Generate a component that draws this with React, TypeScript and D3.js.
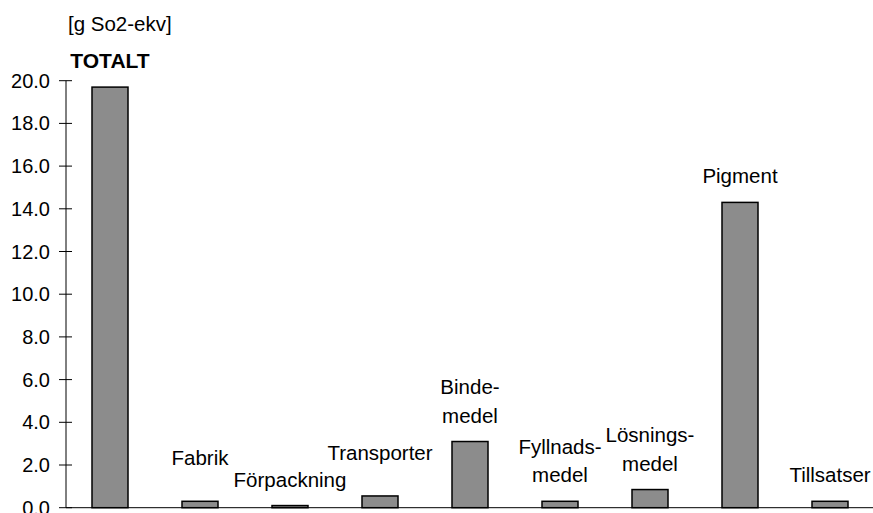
import React, { useEffect, useRef } from "react";
import * as d3 from "d3";

const categories = [
  "TOTALT",
  "Fabrik",
  "Förpackning",
  "Transporter",
  "Bindemedel",
  "Fyllnadsmedel",
  "Lösningsmedel",
  "Pigment",
  "Tillsatser",
];
const values = [19.7, 0.3, 0.1, 0.55, 3.1, 0.3, 0.85, 14.3, 0.3];
const labelLines = [
  ["TOTALT"],
  ["Fabrik"],
  ["Förpackning"],
  ["Transporter"],
  ["Binde-", "medel"],
  ["Fyllnads-", "medel"],
  ["Lösnings-", "medel"],
  ["Pigment"],
  ["Tillsatser"],
];
// labels lifted one step to avoid colliding with neighbours
const labelRaised = [false, true, false, true, false, false, false, false, false];
const yTicks = [0, 2, 4, 6, 8, 10, 12, 14, 16, 18, 20];
const unitLabel = "[g So2-ekv]";

const WIDTH = 873;
const HEIGHT = 513;
const FONT = "'Liberation Sans', Arial, sans-serif";

function App() {
  const svgRef = useRef<SVGSVGElement>(null);

  useEffect(() => {
    const svg = d3.select(svgRef.current);
    svg.selectAll("*").remove();

    const x = d3
      .scaleBand()
      .domain(categories)
      .range([65, 875])
      .paddingInner(0.6)
      .paddingOuter(0.3);

    const y = d3.scaleLinear().domain([0, 20]).range([507.7, 80.7]);

    const g = svg.append("g").style("font-family", FONT);

    // y axis
    g.append("line")
      .attr("x1", 66)
      .attr("x2", 66)
      .attr("y1", y(20))
      .attr("y2", y(0))
      .attr("stroke", "#000")
      .attr("stroke-width", 1);

    const ticks = g
      .selectAll(".tick")
      .data(yTicks)
      .enter()
      .append("g")
      .attr("class", "tick")
      .attr("transform", (d) => `translate(0,${y(d)})`);

    ticks
      .append("line")
      .attr("x1", 59)
      .attr("x2", 72)
      .attr("stroke", "#000")
      .attr("stroke-width", 1);

    ticks
      .append("text")
      .attr("x", 50)
      .attr("dy", "0.35em")
      .attr("text-anchor", "end")
      .style("font-size", "20px")
      .text((d) => d3.format(".1f")(d));

    // bars
    g.selectAll(".bar")
      .data(values)
      .enter()
      .append("rect")
      .attr("class", "bar")
      .attr("x", (_, i) => x(categories[i])!)
      .attr("width", x.bandwidth())
      .attr("y", (d) => y(d))
      .attr("height", (d) => y(0) - y(d))
      .attr("fill", "#8c8c8c")
      .attr("stroke", "#000")
      .attr("stroke-width", 1.5);

    // x axis
    g.append("line")
      .attr("x1", 66)
      .attr("x2", WIDTH)
      .attr("y1", y(0))
      .attr("y2", y(0))
      .attr("stroke", "#000")
      .attr("stroke-width", 1);

    // category labels above bars
    const lineH = 28.5;
    categories.forEach((c, i) => {
      const lines = labelLines[i];
      const cx = x(c)! + x.bandwidth() / 2;
      const base = y(values[i]) - 19 - (labelRaised[i] ? 17 : 0);
      const t = g
        .append("text")
        .attr("text-anchor", "middle")
        .style("font-size", i === 0 ? "21px" : "20.5px")
        .style("font-weight", i === 0 ? "bold" : "normal");
      lines.forEach((l, j) => {
        t.append("tspan")
          .attr("x", cx)
          .attr("y", base - (lines.length - 1 - j) * lineH)
          .text(l);
      });
    });

    // unit label
    g.append("text")
      .attr("x", 68)
      .attr("y", 31)
      .style("font-size", "20.5px")
      .text(unitLabel);
  }, []);

  return (
    <div style={{ position: "absolute", left: 0, top: 0 }}>
      <svg ref={svgRef} width={WIDTH} height={HEIGHT}></svg>
    </div>
  );
}

export default App;
